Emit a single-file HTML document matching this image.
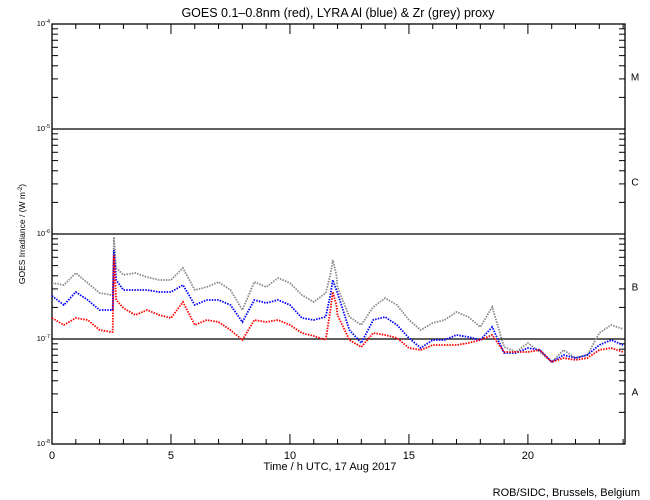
<!DOCTYPE html>
<html><head><meta charset="utf-8"><style>
html,body{margin:0;padding:0;background:#fff}
svg{display:block;font-family:"Liberation Sans",sans-serif}
</style></head><body>
<svg id="chart" width="650" height="500">
<text x="338" y="17" font-size="12.5" text-anchor="middle">GOES 0.1–0.8nm (red), LYRA Al (blue) &amp; Zr (grey) proxy</text>
<text x="330" y="470" font-size="11" text-anchor="middle">Time / h UTC, 17 Aug 2017</text>
<text x="640" y="496" font-size="11" text-anchor="end">ROB/SIDC, Brussels, Belgium</text>
<text transform="translate(25,234) rotate(-90)" font-size="8.5" text-anchor="middle">GOES Irradiance / (W m<tspan dy="-3" font-size="6">-2</tspan><tspan dy="3">)</tspan></text>
<g id="axes"></g>
<g id="series"></g>
</svg>
<script>
const times = [0,0.5,1,1.5,2,2.5,2.55,2.6,2.7,3,3.5,4,4.5,5,5.5,6,6.5,7,7.5,8,8.5,9,9.5,10,10.5,11,11.5,11.7,11.8,11.95,12,12.5,13,13.5,14,14.5,15,15.5,16,16.5,17,17.5,18,18.5,19,19.5,20,20.5,21,21.5,22,22.5,23,23.5,24];
const greyPx = [283,285,273,283,293,295,295,237,268,275,273,277,280,280,268,290,287,282,290,310,282,287,278,283,295,302,293,275,260,275,287,317,325,307,298,305,320,330,323,320,312,317,327,307,347,352,343,352,362,350,358,355,333,325,329];
const bluePx = [296,305,292,300,310,310,310,250,280,290,290,290,292,292,285,305,300,300,305,322,300,303,300,305,318,320,317,295,280,290,293,330,343,320,317,325,338,348,340,340,335,337,340,327,353,353,348,350,362,355,358,355,345,340,345];
const redPx = [318,325,318,320,330,332,332,255,300,308,315,310,315,318,302,325,320,322,330,340,320,322,320,325,333,336,340,310,292,305,315,340,347,333,335,338,348,350,345,345,345,343,340,335,352,352,352,350,362,358,360,358,350,348,352];
// convert read pixel estimates to log10 irradiance values
const toLog = p => Math.round((-4 - (p - 24) / 105) * 1000) / 1000;
const greyLog = greyPx.map(toLog);
const blueLog = bluePx.map(toLog);
const redLog = redPx.map(toLog);
const xTicks = [0,5,10,15,20];
const decades = [-4,-5,-6,-7,-8];
const classes = ["M","C","B","A"];

const L=52,R=625,T=24,B=444;
const xs = t => L + t*(R-L)/24.08;
const ys = lg => T + (-4 - lg)*105;
const NS="http://www.w3.org/2000/svg";
function mk(tag, attrs, parent){const e=document.createElementNS(NS,tag);for(const k in attrs)e.setAttribute(k,attrs[k]);parent.appendChild(e);return e;}
const ax=document.getElementById('axes');
const fr=mk('rect',{x:L,y:T,width:R-L,height:B-T,fill:'none',stroke:'#000','stroke-width':1.3},ax);


for(let h=0;h<=24;h++){
  const len = h%5===0?10:5, x=xs(h);
  const t1=mk('line',{x1:x,x2:x,y1:B,y2:B-len,stroke:'#000'},ax);
  
  
  const t2=mk('line',{x1:x,x2:x,y1:T,y2:T+len,stroke:'#000'},ax);
  
  
}
xTicks.forEach(h=>{
  const t=mk('text',{x:xs(h),y:B+15,'font-size':11,'text-anchor':'middle'},ax);t.textContent=h;
  
  
});
decades.forEach((d,i)=>{
  const y=ys(d);
  if(d>-8&&d<-4){const g=mk('line',{x1:L,x2:R,y1:y,y2:y,stroke:'#000','stroke-width':1.2},ax);
    
    }
  const t=mk('text',{x:L-2,y:y+2,'font-size':7.5,'text-anchor':'end'},ax);
  t.innerHTML='10<tspan dy="-3" font-size="5.5">'+d+'</tspan>';
  
  
  if(d>-8){for(let m=2;m<=9;m++){const yy=ys(d-1+Math.log10(m));
    const a=mk('line',{x1:L,x2:L+6,y1:yy,y2:yy,stroke:'#000'},ax);
    
    
    const b=mk('line',{x1:R,x2:R-6,y1:yy,y2:yy,stroke:'#000'},ax);
    
    }}
});
classes.forEach((c,i)=>{
  const t=mk('text',{x:635,y:ys(-4.5-i)+4,'font-size':10,'text-anchor':'middle'},ax);t.textContent=c;
  
  
});
const sg=document.getElementById('series');
[[greyLog,'#888','zr-grey-series'],[blueLog,'#0000ff','lyra-al-blue-series'],[redLog,'#ff0000','goes-red-series']].forEach(([arr,col,name])=>{
  const pts=arr.map((v,i)=>xs(times[i]).toFixed(1)+','+ys(v).toFixed(1)).join(' ');
  const p=mk('polyline',{points:pts,fill:'none',stroke:col,'stroke-width':1.8,'stroke-dasharray':'1.5 1.2'},sg);
  
  
});
</script>
</body></html>
